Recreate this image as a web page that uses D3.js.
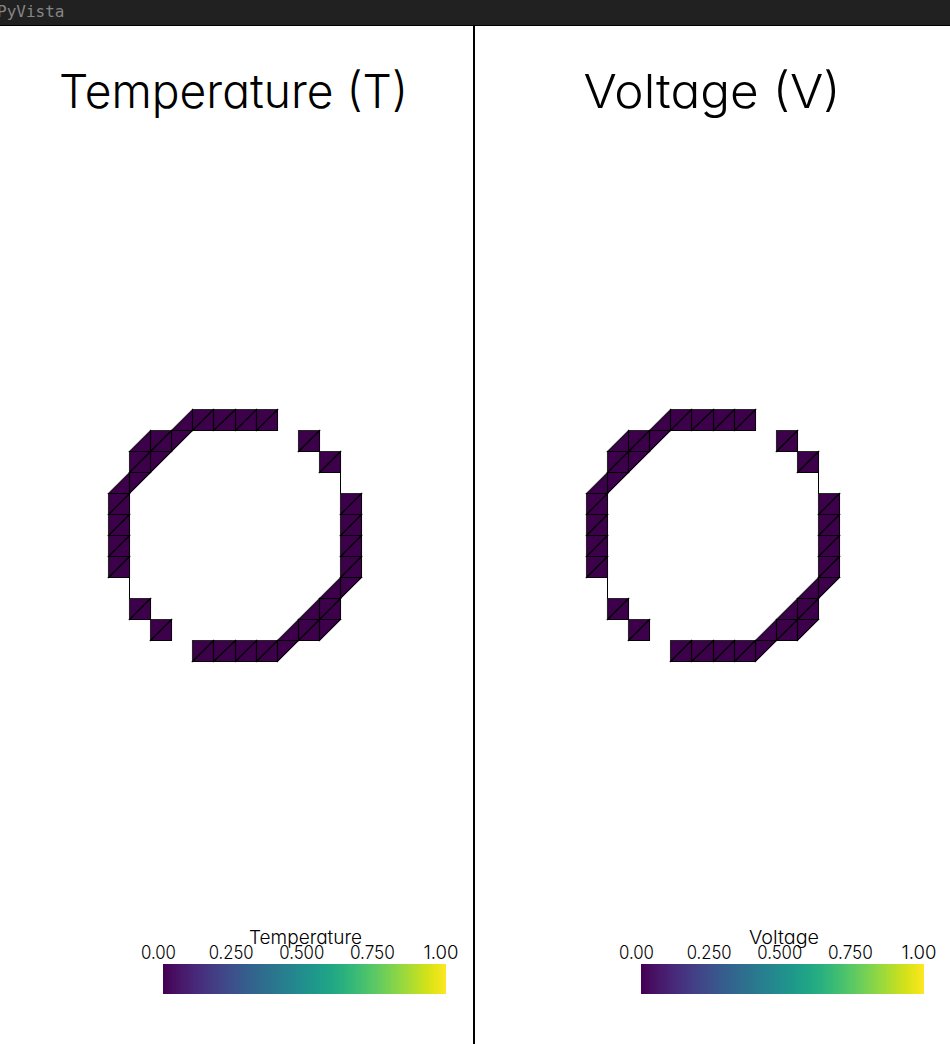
<!DOCTYPE html>
<html><head><meta charset="utf-8">
<script src="https://cdn.jsdelivr.net/npm/d3@7"></script>
<style>
html,body{margin:0;padding:0;background:#fff;overflow:hidden}
svg{display:block}
text{font-family:Inter,"Noto Sans",sans-serif;font-feature-settings:"cv11";font-weight:300;fill:#000}
</style></head><body>
<svg id="chart" width="950" height="1044"></svg>
<script>
// Mesh cells as [row, column] on a 12×12 grid
const fullCells = [[0,4],[0,5],[0,6],[0,7],[1,2],[2,1],[4,0],[5,0],[6,0],[7,0],[9,1],[10,2],[11,4],[11,5],[11,6],[11,7],
  [1,9],[2,10],[4,11],[5,11],[6,11],[7,11],[9,10],[10,9]];
const upperLeftTriangles = [[1,3],[2,2],[3,1],[8,11],[10,10],[11,8]];
const lowerRightTriangles = [[0,3],[1,1],[3,0],[8,10],[9,9],[10,8]];
const bareEdges = [[[3,11],[4,11]],[[8,1],[9,1]]]; // [row, col] end points
const panelTitles = ["Temperature (T)","Voltage (V)"];
const barTitles = ["Temperature","Voltage"];
const cellValue = 0;
const tickValues = [0,0.25,0.5,0.75,1];
const tickLabels = ["0.00","0.250","0.500","0.750","1.00"];

const svg = d3.select("#chart");
const color = d3.scaleSequential(d3.interpolateViridis).domain([0,1]);

svg.append("rect").attr("width",950).attr("height",25).attr("fill","#212121");
svg.append("rect").attr("y",25).attr("width",950).attr("height",1).attr("fill","#000");
svg.append("text").attr("x",-3).attr("y",17).text("PyVista")
  .style("font-family","'DejaVu Sans Mono'").style("font-size","16px").style("font-weight",400).style("font-feature-settings","normal").style("fill","#858585");
svg.append("rect").attr("x",473).attr("y",26).attr("width",2).attr("height",1018).attr("fill","#000");

const tri = { U:[[0,0],[0,1],[1,0]], L:[[0,1],[1,1],[1,0]] };

panelTitles.forEach((title,i)=>{
  const dx = i*478;
  const x = d3.scaleLinear().domain([0,12]).rangeRound([108+dx,361+dx]);
  const y = d3.scaleLinear().domain([0,12]).rangeRound([409,661]);
  const path = d3.line().x(d=>x(d[1])+0.5).y(d=>y(d[0])+0.5);
  const g = svg.append("g");
  const triangles = [
    ...fullCells.flatMap(c=>[[c,"U"],[c,"L"]]),
    ...upperLeftTriangles.map(c=>[c,"U"]),
    ...lowerRightTriangles.map(c=>[c,"L"])
  ];
  const triPath = ([c,k])=>path(tri[k].map(p=>[c[0]+p[0],c[1]+p[1]]))+"Z";
  g.selectAll("path.t").data(triangles).join("path").attr("class","t")
    .attr("d",triPath).attr("shape-rendering","crispEdges")
    .attr("fill",d3.color(color(cellValue)).darker(0.35));
  g.selectAll("path.o").data(triangles).join("path").attr("class","o")
    .attr("d",triPath).attr("fill","none").attr("stroke","#000").attr("stroke-width",1.1).attr("stroke-opacity",0.85);
  g.selectAll("path.e").data(bareEdges).join("path").attr("class","e")
    .attr("d",path).attr("stroke","#000").attr("stroke-width",1).attr("fill","none");

  const titleCx = [233.5,712][i];
  svg.append("text").attr("x",titleCx).attr("y",108).attr("text-anchor","middle")
    .attr("textLength",[349,257][i]).attr("lengthAdjust","spacingAndGlyphs")
    .style("font-size","47px").text(title);

  const bar = d3.scaleLinear().domain([0,1]).range([163+dx,446+dx]);
  const steps = d3.range(0,283).map(k=>k/283);
  svg.append("g").attr("shape-rendering","crispEdges").selectAll("rect").data(steps).join("rect")
    .attr("x",d=>bar(d)).attr("y",964).attr("width",1).attr("height",29.5).attr("fill",d=>color(d));
  const lab = d3.scaleLinear().domain([0,1]).range([158.5+dx,441+dx]);
  svg.append("g").selectAll("text").data(tickValues).join("text")
    .attr("x",(d,k)=>lab(d)+(tickLabels[k].length>4?2:0)).attr("y",959).attr("text-anchor","middle")
    .attr("textLength",(d,k)=>tickLabels[k].length>4?45:35).attr("lengthAdjust","spacingAndGlyphs")
    .style("font-size","18px").text((d,k)=>tickLabels[k]);
  svg.append("text").attr("x",[305.5,784][i]).attr("y",944).attr("text-anchor","middle")
    .attr("textLength",[113,70][i]).attr("lengthAdjust","spacingAndGlyphs")
    .style("font-size","18.5px").text(barTitles[i]);
});
</script></body></html>
